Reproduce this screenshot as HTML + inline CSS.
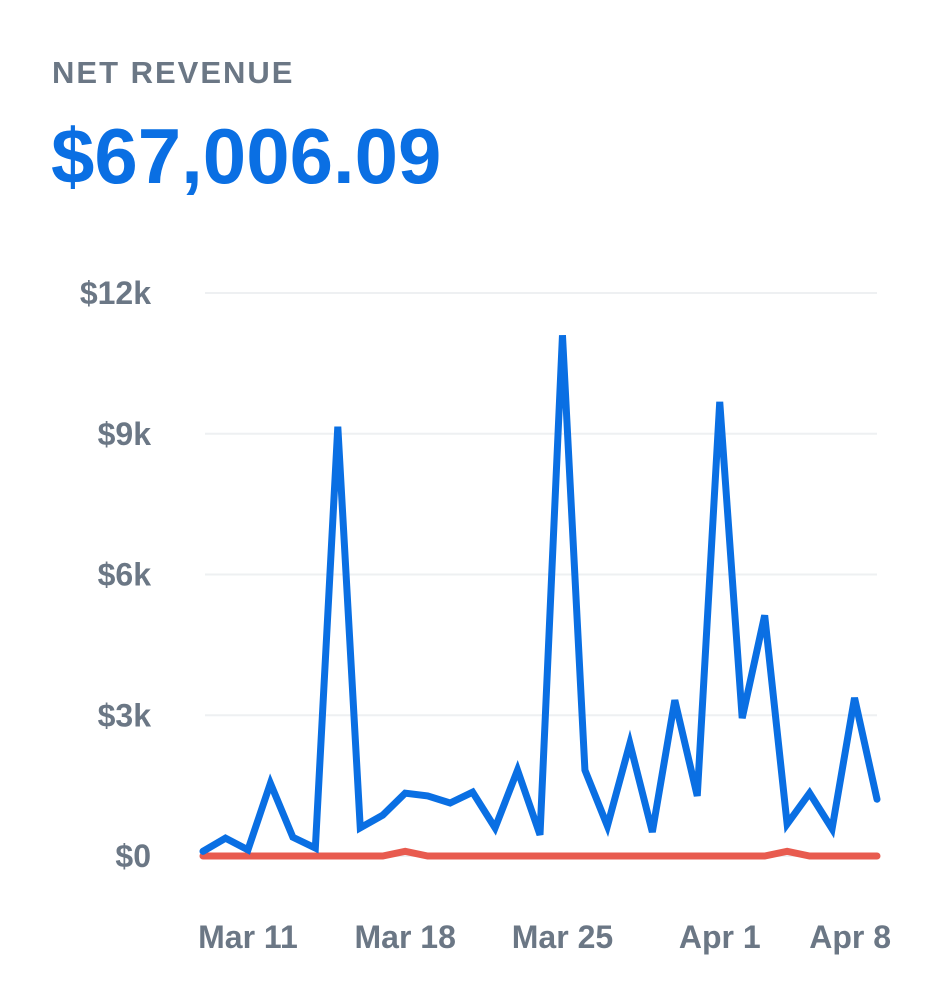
<!DOCTYPE html>
<html><head><meta charset="utf-8"><style>
html,body{margin:0;padding:0;background:#fff;width:948px;height:1006px;overflow:hidden;font-family:"Liberation Sans",sans-serif}
#t{position:absolute;left:52px;top:55px;font-size:31px;font-weight:bold;color:#6b7785;letter-spacing:2px}
#v{position:absolute;left:51px;top:111px;font-size:78px;font-weight:bold;color:#0a6fe3}
svg{position:absolute;left:0;top:0}
</style></head><body>
<div id="t">NET REVENUE</div>
<div id="v">$67,006.09</div>
<svg id="c" width="948" height="1006"></svg>
<script>
const revenue=[100,380,130,1550,400,170,9150,600,870,1340,1280,1130,1360,600,1830,450,11100,1830,640,2400,510,3320,1280,9680,2940,5130,680,1340,580,3370,1210];
const refunds=[0,0,0,0,0,0,0,0,0,100,0,0,0,0,0,0,0,0,0,0,0,0,0,0,0,0,100,0,0,0,0];
const yTicks=[0,3000,6000,9000,12000];
const yTickLabels=["$0","$3k","$6k","$9k","$12k"];
const xTickIdx=[2,9,16,23,30];
const xTickLabels=["Mar 11","Mar 18","Mar 25","Apr 1","Apr 8"];
const svg=document.getElementById('c');const NS='http://www.w3.org/2000/svg';
const x0=203,x1=877,yb=856,yt=293;
const X=i=>x0+(x1-x0)*i/(revenue.length-1);
const Y=v=>yb-(yb-yt)*v/12000;
function mk(t,a){const e=document.createElementNS(NS,t);for(const k in a)e.setAttribute(k,a[k]);svg.appendChild(e);return e;}
yTicks.forEach((v,i)=>{
 const g=mk('line',{x1:205,x2:877,y1:Y(v),y2:Y(v),stroke:'#eef0f2','stroke-width':2});
 
 
 const t=mk('text',{x:151,y:Y(v)+11,'text-anchor':'end','font-size':32,'font-weight':'bold',fill:'#6b7785'});
 t.textContent=yTickLabels[i];
 
 
});
xTickIdx.forEach((idx,i)=>{
 const last=i===xTickIdx.length-1;
 const t=mk('text',{x:last?891:X(idx),y:948,'text-anchor':last?'end':'middle','font-size':32,'font-weight':'bold',fill:'#6b7785'});
 t.textContent=xTickLabels[i];
 
 
});
function line(d,c,n){const p=mk('polyline',{points:d.map((v,i)=>X(i)+','+Y(v)).join(' '),fill:'none',stroke:c,'stroke-width':7,'stroke-linejoin':'miter','stroke-linecap':'round'});
 
 }
line(refunds,'#e85b4f','refunds-line');
line(revenue,'#0a6fe3','revenue-line');
</script>
</body></html>
